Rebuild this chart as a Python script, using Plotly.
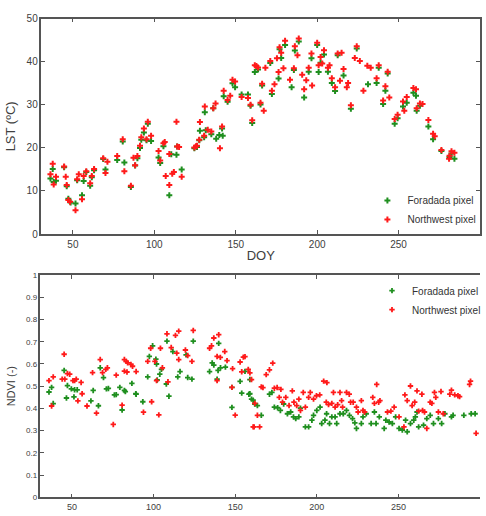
import plotly.graph_objects as go

# ---------------- LST (top panel) ----------------
doy_lst_f = [36.2, 37.6, 38.2, 39.6, 44.6, 46.2, 47.2, 48.6, 51.6, 52.6, 55.6, 56.6, 58.2, 60.6, 61.6, 63,
             68.6, 70, 77.2, 80.6, 81.6, 85.6, 88.2, 89.6, 91.2, 92, 93.6, 95.2, 96, 98, 102.6, 103.6,
             105.6, 109.2, 110.4, 113.6, 114, 116.8, 124.6, 126.2, 127.6, 128, 130.6, 131, 131.6, 135,
             136.2, 138, 139.9, 141.6, 142, 142.6, 145, 148, 149.6, 153.6, 157.5, 159.1, 160.1, 161.7,
             163.7, 165.2, 166.2, 171.2, 172.2, 176.3, 176.9, 177.9, 180.3, 184.3, 185.7, 186.3, 188.7,
             192, 194.8, 196.5, 200, 200.9, 202.1, 204.2, 206.6, 209, 211, 212.6, 216.2, 220.7, 224.3,
             231.2, 236.5, 237.8, 240.5, 241.9, 243.3, 247.6, 249.4, 252.7, 255, 259.1, 260.7, 261.1,
             263.1, 268.3, 271.2, 276.3, 281.3, 282.5, 284.3]
lst_f = [12.9, 15.1, 12.1, 12.4, 15.5, 11.1, 8.2, 7.3, 7.1, 12.5, 9.0, 12.3, 14.4, 11.2, 13.2, 14.8,
         17.4, 15.0, 17.2, 21.5, 16.6, 10.9, 15.9, 17.6, 20.0, 21.9, 23.6, 21.8, 25.6, 21.6, 17.8, 16.5,
         20.4, 9.0, 18.5, 18.4, 20.3, 15.0, 19.9, 20.2, 21.8, 24.0, 22.5, 28.3, 24.1, 23.2,
         29.2, 22.1, 23.0, 24.5, 22.8, 32.0, 30.7, 35.0, 34.1, 32.4, 32.4, 29.8, 25.8, 37.6,
         38.2, 30.1, 34.5, 39.7, 32.5, 36.1, 42.9, 40.9, 43.9, 34.1, 38.1, 42.6, 44.7,
         31.7, 37.7, 40.8, 43.9, 37.6, 39.8, 41.7, 37.7, 35.1, 33.2, 41.5, 36.8, 29.1, 43.1,
         34.8, 35.1, 38.6, 30.2, 33.3, 37.3, 25.6, 26.9, 29.6, 30.5, 32.8, 32.1, 28.6,
         29.8, 25.0, 22.0, 19.3, 17.9, 18.7, 17.5]

doy_lst_n = [36.2, 37.6, 38.2, 39.6, 44.6, 45.6, 46.2, 47.2, 48.2, 51.6, 52.6, 53.6, 55.6, 56.6, 58.2,
             60.6, 61.6, 63, 68.6, 70, 71.2, 77.2, 80.6, 81.6, 85.6, 87.2, 88.2, 89.6, 91.2, 92, 93.6,
             95.2, 96, 98, 102.6, 103.6, 105.6, 106.4, 107, 109.2, 109.2, 111, 112, 113.6, 114, 115.2,
             116.8, 124.6, 125.6, 126.2, 127.6, 128, 130.6, 131, 132.8, 135, 136.2, 137.6, 140.3, 141.6,
             142.6, 145, 146.6, 148, 149.6, 153.6, 157.5, 159.1, 160.1, 161.7, 162.7, 163.7, 165.2,
             166.2, 167.2, 168.2, 171.2, 172.2, 173.8, 175.3, 176.3, 176.9, 177.9, 179.3, 180.3, 183.3,
             185.7, 186.3, 187.9, 188.7, 190.8, 192, 193.3, 194.8, 196.5, 196.9, 200, 200.9, 202.1,
             203.1, 204.2, 206.6, 207.6, 209, 211, 212.6, 214, 215, 216.2, 218.2, 219, 220.7, 223.1,
             224.3, 226.2, 228.4, 230.8, 232.9, 236.5, 237.8, 240.5, 241.9, 243.3, 244.3, 247.6, 249.4,
             252.7, 253.5, 255, 259.1, 260.7, 261.1, 263.1, 264.7, 268.3, 271.2, 272.2, 276.3, 281,
             281.3, 282.5, 284.3]
lst_n = [13.9, 16.3, 11.5, 13.3, 15.7, 13.3, 11.4, 7.9, 7.5, 5.5, 12.7, 13.9, 8.1, 13.5, 14.6,
         11.8, 13.5, 15.1, 17.6, 14.2, 16.8, 18.1, 22.0, 14.6, 11.2, 17.7, 16.0, 18.1, 20.5, 22.5, 24.5,
         22.0, 26.1, 22.8, 19.3, 17.1, 21.1, 21.4, 13.5, 18.6, 11.4, 14.0, 14.4, 26.1, 20.3, 20.2,
         13.3, 20.1, 20.4, 20.5, 21.9, 26.0, 22.8, 29.6, 24.2, 23.8, 29.2, 30.3, 19.9, 25.0,
         33.3, 31.1, 32.1, 35.8, 35.4, 31.8, 31.6, 30.0, 26.4, 39.2, 39.0, 38.7, 30.5,
         34.9, 28.6, 38.6, 40.2, 33.3, 34.8, 40.8, 37.6, 43.4, 42.1, 38.5, 44.9, 35.8,
         38.5, 43.6, 41.5, 45.4, 37.0, 33.6, 35.7, 38.6, 41.9, 34.5, 44.4, 39.2, 41.1,
         39.6, 42.7, 38.6, 39.2, 36.2, 34.1, 41.9, 35.6, 42.1, 38.3, 34.1, 35.1, 29.9, 40.9,
         43.6, 40.2, 33.3, 39.1, 38.6, 36.2, 39.2, 31.0, 34.3, 37.7, 31.7, 26.7, 27.7,
         30.8, 28.6, 31.8, 33.9, 33.6, 29.2, 30.3, 30.2, 26.5, 23.3, 22.7, 19.5, 17.5,
         18.2, 19.2, 18.9]

# ---------------- NDVI (bottom panel) ----------------
doy_ndvi_f = [35.9, 37.5, 38.5, 45.2, 47.2, 46.6, 49.6, 51.6, 53.2, 51.2, 61.6, 63, 66.2, 67.3, 69.3,
              71.1, 72.3, 76, 77.1, 79.3, 80.7, 82.1, 82.7, 86.7, 89.1, 89.3, 93.4, 96.4, 97.4, 99.4,
              101.4, 101.8, 102.2, 103.8, 104.8, 107.8, 109.4, 108.2, 111.8, 114.8, 116.2, 119.9,
              120.9, 123.5, 124.3, 134.3, 135.9, 136.9, 139.5, 141, 138.9, 139.9, 144, 148, 148,
              153, 154, 156, 158.4, 159, 159, 160, 161, 162, 163.6, 166, 171, 172.5, 174, 176, 177.7,
              179.7, 182, 184, 185.7, 187.1, 189, 190, 193, 195, 197, 198, 200, 202, 203, 205, 206,
              207.8, 209.2, 211.2, 212.2, 214.2, 216.2, 218.2, 220, 221.9, 223.3, 224.3, 227.3,
              228.3, 230.3, 233.3, 235.3, 236.3, 238.3, 241.3, 242.3, 244.3, 246.3, 248.3, 250.4,
              252.4, 254.4, 255.4, 257.4, 259.4, 260.4, 261.4, 262.4, 265.4, 267.4, 269.5, 271.5,
              274.5, 276.5, 278.5, 282.5, 283.5, 290.1, 294.6, 297]
ndvi_f = [0.474, 0.495, 0.422, 0.571, 0.503, 0.447, 0.488, 0.484, 0.484, 0.452, 0.434, 0.481, 0.412, 0.583, 0.539,
          0.488, 0.49, 0.461, 0.462, 0.495, 0.393, 0.481, 0.476, 0.513, 0.466, 0.464, 0.43, 0.542, 0.634, 0.682,
          0.622, 0.6, 0.528, 0.554, 0.576, 0.51, 0.455, 0.703, 0.656, 0.542, 0.566, 0.641,
          0.539, 0.532, 0.703, 0.566, 0.605, 0.595, 0.571, 0.583, 0.532, 0.693, 0.586, 0.405, 0.495,
          0.522, 0.469, 0.567, 0.464, 0.53, 0.466, 0.442, 0.437, 0.42, 0.413, 0.369, 0.464, 0.472, 0.406, 0.403, 0.391,
          0.42, 0.376, 0.384, 0.362, 0.354, 0.362, 0.401, 0.317, 0.317, 0.347, 0.369, 0.391, 0.406, 0.332, 0.347, 0.376,
          0.332, 0.362, 0.362, 0.332, 0.376, 0.376, 0.391, 0.369, 0.354, 0.335, 0.31, 0.332,
          0.362, 0.376, 0.332, 0.384, 0.332, 0.362, 0.31, 0.347, 0.339, 0.332, 0.362, 0.31,
          0.303, 0.347, 0.295, 0.332, 0.347, 0.362, 0.384, 0.317, 0.325, 0.354, 0.369, 0.332,
          0.354, 0.332, 0.376, 0.362, 0.369, 0.369, 0.376, 0.376]

doy_ndvi_n = [35.9, 38.5, 37.5, 45.2, 44, 45.6, 47.2, 48.6, 50.6, 51.6, 52.6, 53.6, 55.6, 56.2, 59.2,
              62.6, 65, 67.3, 68.7, 70.7, 71.7, 75.3, 77.1, 80.7, 82.1, 83.3, 84.1, 82.1, 83.7, 86.1,
              87.1, 89.3, 93.8, 98.8, 96.4, 98.2, 100.8, 101.8, 103.2, 104.2, 105.4, 108.8, 108.2, 110.8,
              113.4, 115.4, 114.2, 115.4, 119.5, 120.9, 123.5, 124.3, 134.3, 135.5, 136.9, 139.9,
              138.9, 140.9, 138.9, 143.6, 145, 148.4, 150, 148, 153, 155, 154, 156, 158, 161,
              159, 160, 162, 161.6, 165, 163.6, 166, 167, 169, 171, 173, 174, 175.7, 178, 177, 179,
              181, 183, 185, 186, 187.7, 189, 190, 191.7, 193, 195, 196, 198, 199.8, 201.8, 204.2,
              206.2, 205.8, 207.2, 209.2, 210.2, 211.2, 212.8, 214.2, 215.2, 215.8, 218.2, 219.9,
              220.7, 222.3, 224.3, 225.3, 227.3, 228.3, 229.3, 234.3, 235.3, 236.7, 237.9, 238.7,
              243.3, 245.4, 247.4, 250.4, 253.4, 254, 255.4, 257.4, 258.4, 260, 261.4, 262.4, 264.4,
              264.8, 266, 267.4, 269.5, 270.5, 272.1, 272.9, 274.5, 276.1, 277.5, 281.5, 282.5,
              284.5, 286.5, 287.5, 293.6, 294.2, 297.6]
ndvi_n = [0.525, 0.542, 0.411, 0.644, 0.532, 0.532, 0.557, 0.554, 0.525, 0.525, 0.532, 0.434, 0.517, 0.466, 0.411,
          0.561, 0.379, 0.62, 0.561, 0.576, 0.583, 0.328, 0.55, 0.415, 0.62, 0.612, 0.605, 0.568, 0.564, 0.598,
          0.59, 0.566, 0.383, 0.43, 0.612, 0.671, 0.612, 0.525, 0.371, 0.671, 0.583, 0.52, 0.736, 0.674,
          0.729, 0.748, 0.649, 0.62, 0.663, 0.638, 0.612, 0.751, 0.671, 0.682, 0.717, 0.732,
          0.634, 0.63, 0.525, 0.656, 0.615, 0.579, 0.37, 0.495, 0.609, 0.631, 0.565, 0.633, 0.576, 0.317,
          0.56, 0.53, 0.423, 0.317, 0.317, 0.369, 0.497, 0.494, 0.552, 0.574, 0.604, 0.491, 0.494, 0.486, 0.45, 0.428,
          0.45, 0.413, 0.479, 0.428, 0.413, 0.442, 0.391, 0.472, 0.406, 0.45, 0.472, 0.442, 0.457, 0.461, 0.523,
          0.516, 0.428, 0.417, 0.423, 0.472, 0.406, 0.417, 0.472, 0.435, 0.406, 0.472, 0.464,
          0.428, 0.428, 0.406, 0.384, 0.435, 0.391, 0.384, 0.45, 0.423, 0.508, 0.428, 0.435,
          0.384, 0.388, 0.406, 0.362, 0.317, 0.461, 0.435, 0.501, 0.413, 0.428, 0.479, 0.388, 0.464,
          0.391, 0.384, 0.31, 0.428, 0.423, 0.472, 0.45, 0.384, 0.476, 0.376, 0.464, 0.482,
          0.461, 0.457, 0.453, 0.508, 0.523, 0.288]

x_ticks = [50, 100, 150, 200, 250, 300]
lst_ticks = [0, 10, 20, 30, 40, 50]
ndvi_ticks = [0, 0.1, 0.2, 0.3, 0.4, 0.5, 0.6, 0.7, 0.8, 0.9, 1]

GREEN = "#1f8f1f"
RED = "#ff1a1a"
W, H = 486, 516

fig = go.Figure()
fig.add_trace(go.Scatter(x=doy_lst_f, y=lst_f, mode="markers", name="Foradada pixel",
                         marker=dict(symbol="cross", size=5, color=GREEN, line=dict(width=0)),
                         xaxis="x", yaxis="y", legend="legend"))
fig.add_trace(go.Scatter(x=doy_lst_n, y=lst_n, mode="markers", name="Northwest pixel",
                         marker=dict(symbol="cross", size=5, color=RED, line=dict(width=0)),
                         xaxis="x", yaxis="y", legend="legend"))
fig.add_trace(go.Scatter(x=doy_ndvi_f, y=ndvi_f, mode="markers", name="Foradada pixel",
                         marker=dict(symbol="cross", size=4.5, color=GREEN, line=dict(width=0)),
                         xaxis="x2", yaxis="y2", legend="legend2"))
fig.add_trace(go.Scatter(x=doy_ndvi_n, y=ndvi_n, mode="markers", name="Northwest pixel",
                         marker=dict(symbol="cross", size=4.5, color=RED, line=dict(width=0)),
                         xaxis="x2", yaxis="y2", legend="legend2"))

axcol = "#555555"
tickfont = dict(family="Liberation Sans, Arial, sans-serif", size=10, color="#404040")
common = dict(showline=True, linecolor=axcol, linewidth=1.5, ticks="inside",
              ticklen=4, tickcolor=axcol, showgrid=False, zeroline=False)

fig.update_layout(
    width=W, height=H, margin=dict(l=0, r=0, t=0, b=0),
    paper_bgcolor="white", plot_bgcolor="white",
    font=dict(family="Liberation Sans, Arial, sans-serif", color="#404040"),
    xaxis=dict(domain=[42 / W, 1], range=[30.7, 300], tickvals=x_ticks, anchor="y", mirror="ticks",
               tickfont=tickfont, title=dict(text="DOY", font=dict(size=13, color="#404040"), standoff=2),
               **common),
    yaxis=dict(domain=[(H - 233) / H, (H - 13) / H], range=[0, 50], tickvals=lst_ticks, anchor="x",
               mirror="ticks", tickfont=tickfont,
               title=dict(text="LST (ºC)", font=dict(size=13, color="#404040"), standoff=8),
               **common),
    xaxis2=dict(domain=[41 / W, 1], range=[30.7, 300], tickvals=x_ticks, anchor="y2", mirror="ticks",
                tickfont=dict(family="Liberation Sans, Arial, sans-serif", size=9, color="#404040"),
                **common),
    yaxis2=dict(domain=[(H - 502) / H, (H - 275) / H], range=[0, 1], tickvals=ndvi_ticks, anchor="x2",
                mirror=False,
                tickfont=dict(family="Liberation Sans, Arial, sans-serif", size=8, color="#404040"),
                title=dict(text="NDVI (-)", font=dict(size=11, color="#404040"), standoff=8),
                **common),
    legend=dict(x=372 / W, y=(H - 184) / H, xanchor="left", yanchor="top", bgcolor="rgba(0,0,0,0)",
                font=dict(size=10, color="#333333"), itemwidth=30, tracegroupgap=0),
    legend2=dict(x=377 / W, y=(H - 276) / H, xanchor="left", yanchor="top", bgcolor="rgba(0,0,0,0)",
                 font=dict(size=10, color="#333333"), itemwidth=30, tracegroupgap=0),
    showlegend=True,
)

fig.write_html("out.html")
